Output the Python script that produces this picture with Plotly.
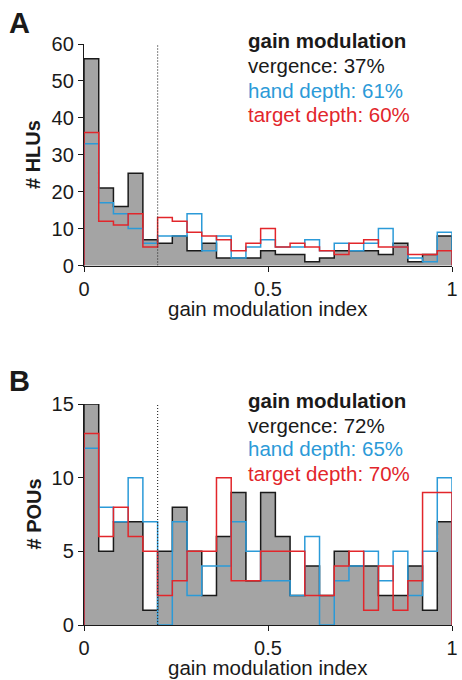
import numpy as np
import plotly.graph_objects as go

# ---------------- data ----------------
BIN_WIDTH = 0.04
N_BINS = 25
THRESHOLD = 0.2

# Panel A (HLUs)
hlu_vergence = [56, 21, 16, 25, 7, 6, 8, 4, 6, 2, 2, 2, 4, 3, 3, 1, 2, 4, 4, 4, 3, 6, 1, 3, 8]
hlu_hand     = [33, 17, 14, 10, 6, 8, 8, 14, 4, 8, 2, 5, 7, 5, 5, 7, 4, 6, 4, 6, 10, 5, 2, 1, 9]
hlu_target   = [36, 12, 11, 14, 5, 13, 12, 9, 8, 7, 4, 6, 10, 5, 6, 5, 4, 3, 6, 7, 5, 5, 3, 3, 4]

# Panel B (POUs)
pou_vergence = [15, 5, 7, 7, 1, 5, 8, 5, 2, 6, 9, 3, 9, 6, 2, 4, 2, 5, 4, 4, 2, 2, 4, 1, 7]
pou_hand     = [12, 8, 7, 10, 7, 0, 7, 2, 4, 4, 7, 5, 3, 3, 2, 6, 0, 3, 4, 5, 3, 5, 2, 5, 10]
pou_target   = [13, 6, 8, 6, 5, 2, 3, 5, 5, 10, 3, 3, 5, 5, 5, 2, 2, 4, 5, 1, 4, 1, 3, 9, 9]

pct_A = {"vergence": "37%", "hand depth": "61%", "target depth": "60%"}
pct_B = {"vergence": "72%", "hand depth": "65%", "target depth": "70%"}

x_ticks = [0, 0.5, 1]
x_ticklabels = ["0", "0.5", "1"]
yA_ticks = [0, 10, 20, 30, 40, 50, 60]
yB_ticks = [0, 5, 10, 15]

# ---------------- style ----------------
W, H = 462, 680
L, R, T, B = 84, 10, 44, 55
FONT = "Liberation Sans, Arial, sans-serif"
GRAY = "#a4a4a4"
BLACK = "#1a1a1a"
BLUE = "#2b9ad8"
RED = "#e2262b"

edges = np.arange(N_BINS + 1) * BIN_WIDTH
centers = edges[:-1] + BIN_WIDTH / 2


def step_xy(counts):
    xs = [edges[0]] + list(edges[:-1]) + [edges[-1]]
    ys = [0] + list(counts) + [0]
    return xs, ys


fig = go.Figure()


def add_panel(vergence, hand, target, xa, ya):
    fig.add_trace(go.Bar(x=centers, y=vergence, width=BIN_WIDTH,
                         marker=dict(color=GRAY, line=dict(width=0)),
                         xaxis=xa, yaxis=ya, showlegend=False, hoverinfo="skip"))
    for counts, col in [(vergence, BLACK), (hand, BLUE), (target, RED)]:
        xs, ys = step_xy(counts)
        fig.add_trace(go.Scatter(x=xs, y=ys, mode="lines", line_shape="hv",
                                 line=dict(color=col, width=1.5),
                                 xaxis=xa, yaxis=ya, showlegend=False, hoverinfo="skip"))


add_panel(hlu_vergence, hlu_hand, hlu_target, "x", "y")
add_panel(pou_vergence, pou_hand, pou_target, "x2", "y2")

plot_h = H - T - B
domA = [(625 - 265.5) / plot_h, 1.0]
domB = [0.0, (625 - 404) / plot_h]

axis_common = dict(showline=True, linecolor=BLACK, linewidth=1.3, ticks="outside",
                   ticklen=5, tickwidth=1.3, tickcolor=BLACK, showgrid=False,
                   zeroline=False, automargin=False,
                   tickfont=dict(family=FONT, size=20, color=BLACK))

fig.update_layout(
    width=W, height=H,
    margin=dict(l=L, r=R, t=T, b=B),
    paper_bgcolor="white", plot_bgcolor="white",
    bargap=0, barmode="overlay",
    xaxis=dict(axis_common, domain=[0, 1], range=[0, 1], tickvals=x_ticks,
               ticktext=x_ticklabels, anchor="y"),
    yaxis=dict(axis_common, domain=domA, range=[0, 60], tickvals=yA_ticks, anchor="x"),
    xaxis2=dict(axis_common, domain=[0, 1], range=[0, 1], tickvals=x_ticks,
                ticktext=x_ticklabels, anchor="y2"),
    yaxis2=dict(axis_common, domain=domB, range=[0, 15], tickvals=yB_ticks, anchor="x2"),
)

# threshold dotted lines
for xa, ya, top in [("x", "y", 60), ("x2", "y2", 15)]:
    fig.add_shape(type="line", x0=THRESHOLD, x1=THRESHOLD, y0=0, y1=top,
                  xref=xa, yref=ya, line=dict(color="#333333", width=1.2, dash="1px,2px"))


def px(xp):
    return (xp - L) / (W - L - R)


def py(yp):
    return (H - B - yp) / (H - T - B)


def ann(text, x, y, size, color=BLACK, bold=False, xanchor="left", angle=0):
    if bold:
        text = "<b>" + text + "</b>"
    fig.add_annotation(text=text, x=px(x), y=py(y), xref="paper", yref="paper",
                       xanchor=xanchor, yanchor="middle", showarrow=False,
                       textangle=angle,
                       font=dict(family=FONT, size=size, color=color))


# panel letters
ann("A", 19, 23, 29, bold=True, xanchor="center")
ann("B", 19, 381, 29, bold=True, xanchor="center")

# y titles
ann("# HLUs", 33, 155, 20, bold=True, xanchor="center", angle=-90)
ann("# POUs", 33, 514.5, 20, bold=True, xanchor="center", angle=-90)

# x titles
ann("gain modulation index", 268, 309, 20.5, xanchor="center")
ann("gain modulation index", 268, 667.5, 20.5, xanchor="center")

# legend-like texts
for ys, pct in [([41, 65.5, 90, 114], pct_A), ([400, 425, 449, 473], pct_B)]:
    ann("gain modulation", 245.5, ys[0], 20.5, bold=True)
    ann("vergence: " + pct["vergence"], 245.5, ys[1], 20.5, color=BLACK)
    ann("hand depth: " + pct["hand depth"], 245.5, ys[2], 20.5, color=BLUE)
    ann("target depth: " + pct["target depth"], 245.5, ys[3], 20.5, color=RED)

fig.write_html("out.html",
               config={"displayModeBar": False},
               post_script="document.body.style.margin='0px';document.body.style.padding='0px';")
